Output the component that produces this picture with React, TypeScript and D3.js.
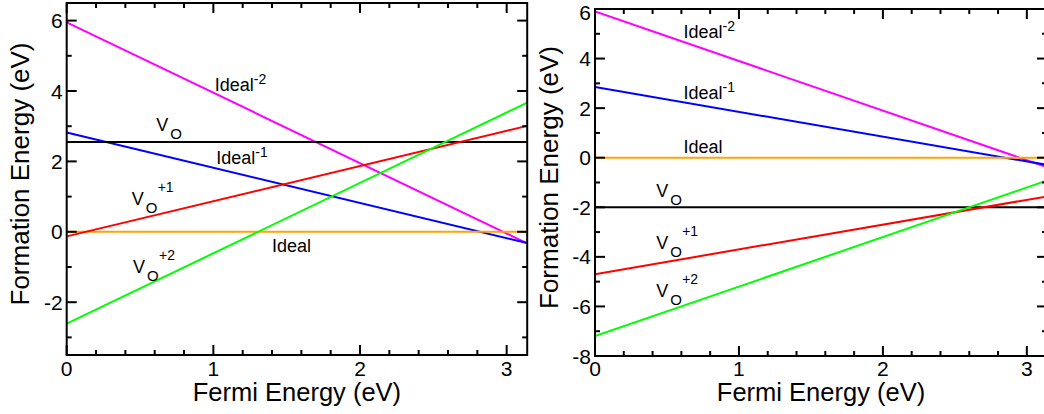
import React from 'react';
import * as d3 from 'd3';

// endpoints of each formation-energy line (Fermi energy 0 .. 3.14 eV)
const fermiRange = [0, 3.14];
const defects = ['Ideal-2', 'Ideal-1', 'Ideal', 'VO', 'VO+1', 'VO+2'];
const leftAtZero = [5.95, 2.82, 0, 2.55, -0.13, -2.61];
const leftAtEnd = [-0.33, -0.32, 0, 2.55, 3.01, 3.67];
const rightAtZero = [5.9, 2.85, 0, -2, -4.7, -7.2];
const rightAtEnd = [-0.38, -0.29, 0, -2, -1.56, -0.92];

const xMajor = [0, 1, 2, 3];
const leftYMajor = [-2, 0, 2, 4, 6];
const rightYMajor = [-8, -6, -4, -2, 0, 2, 4, 6];

const colors = ['#ff00ff', '#0000ff', '#ffa500', '#000000', '#ff0000', '#00ff00'];
const FONT = 'Liberation Sans, Arial, Helvetica, sans-serif';

// label anchors (data coords) for each panel
const leftLabelPos = [
  [1.01, 4.0], [1.02, 1.93], [1.4, -0.57], [0.61, 2.86], [0.443, 0.76], [0.452, -1.17],
];
const rightLabelPos = [
  [0.615, 4.82], [0.615, 2.36], [0.615, 0.18], [0.425, -1.57], [0.425, -3.68], [0.425, -5.6],
];

function Label({ name, x, y }) {
  if (name.startsWith('Ideal')) {
    const sup = name.slice(5);
    return (
      <text x={x} y={y} fontSize={18} fontFamily={FONT}>
        Ideal
        {sup && (
          <tspan dy={-7} fontSize={14}>
            {sup}
          </tspan>
        )}
      </text>
    );
  }
  const sup = name.slice(2);
  return (
    <g fontFamily={FONT}>
      <text x={x} y={y} fontSize={18}>V</text>
      <text x={x + 14} y={y + 8} fontSize={15}>O</text>
      {sup && (
        <text x={x + 26} y={y - 13} fontSize={14}>
          {sup}
        </text>
      )}
    </g>
  );
}

function Panel({ box, yDomain, yMajor, atZero, atEnd, labelPos, titleX, id }) {
  const [x0, x1, y0, y1] = box;
  const x = d3.scaleLinear().domain(fermiRange).range([x0, x1]);
  const y = d3.scaleLinear().domain(yDomain).range([y1, y0]);
  const xMinor = d3.range(0, 3.15, 0.2).filter(v => !xMajor.some(m => Math.abs(m - v) < 1e-6));
  const yMinor = d3.range(Math.ceil(yDomain[0]), yDomain[1] + 0.01, 1).filter(v => !yMajor.includes(v));
  const line = d3.line().x(d => x(d[0])).y(d => y(d[1]));
  const big = 10;
  const small = 5;

  return (
    <g>
      <defs>
        <clipPath id={id}>
          <rect x={x0} y={y0} width={x1 - x0} height={y1 - y0} />
        </clipPath>
      </defs>
      <g clipPath={`url(#${id})`}>
        {defects.map((d, i) => (
          <path
            key={d}
            d={line([[fermiRange[0], atZero[i]], [fermiRange[1], atEnd[i]]])}
            stroke={colors[i]}
            strokeWidth={2}
            fill="none"
          />
        ))}
      </g>
      {defects.map((d, i) => (
        <Label key={d} name={d} x={x(labelPos[i][0])} y={y(labelPos[i][1])} />
      ))}
      <g stroke="#000" strokeWidth={2}>
        {xMajor.map(v => (
          <g key={'xM' + v}>
            <line x1={x(v)} x2={x(v)} y1={y1} y2={y1 - big} />
            <line x1={x(v)} x2={x(v)} y1={y0} y2={y0 + big} />
          </g>
        ))}
        {xMinor.map(v => (
          <g key={'xm' + v}>
            <line x1={x(v)} x2={x(v)} y1={y1} y2={y1 - small} />
            <line x1={x(v)} x2={x(v)} y1={y0} y2={y0 + small} />
          </g>
        ))}
        {yMajor.map(v => (
          <g key={'yM' + v}>
            <line x1={x0} x2={x0 + big} y1={y(v)} y2={y(v)} />
            <line x1={x1} x2={x1 - big} y1={y(v)} y2={y(v)} />
          </g>
        ))}
        {yMinor.map(v => (
          <g key={'ym' + v}>
            <line x1={x0} x2={x0 + small} y1={y(v)} y2={y(v)} />
            <line x1={x1} x2={x1 - small} y1={y(v)} y2={y(v)} />
          </g>
        ))}
        <rect x={x0} y={y0} width={x1 - x0} height={y1 - y0} fill="none" />
      </g>
      <g fontFamily={FONT} fontSize={21}>
        {xMajor.map(v => (
          <text key={'xl' + v} x={x(v)} y={376} textAnchor="middle">
            {v}
          </text>
        ))}
        {yMajor.map(v => (
          <text key={'yl' + v} x={x0 - 4} y={Math.max(y(v) + 7.5, 20)} textAnchor="end">
            {v}
          </text>
        ))}
      </g>
      <text x={(x0 + x1) / 2} y={401} textAnchor="middle" fontFamily={FONT} fontSize={25.5}>
        Fermi Energy (eV)
      </text>
      <text
        transform={`translate(${titleX},${(y0 + y1) / 2 - 5}) rotate(-90)`}
        textAnchor="middle"
        fontFamily={FONT}
        fontSize={26}
      >
        Formation Energy (eV)
      </text>
    </g>
  );
}

export default function App() {
  return (
    <svg
      width={1044}
      height={414}
      style={{ position: 'absolute', left: 0, top: 0, background: '#fff' }}
    >
      <Panel
        id="clipL"
        box={[66.7, 527.2, 3, 355]}
        yDomain={[-3.5, 6.5]}
        yMajor={leftYMajor}
        atZero={leftAtZero}
        atEnd={leftAtEnd}
        labelPos={leftLabelPos}
        titleX={29}
      />
      <Panel
        id="clipR"
        box={[595, 1047, 9, 356]}
        yDomain={[-8, 6]}
        yMajor={rightYMajor}
        atZero={rightAtZero}
        atEnd={rightAtEnd}
        labelPos={rightLabelPos}
        titleX={558}
      />
    </svg>
  );
}
